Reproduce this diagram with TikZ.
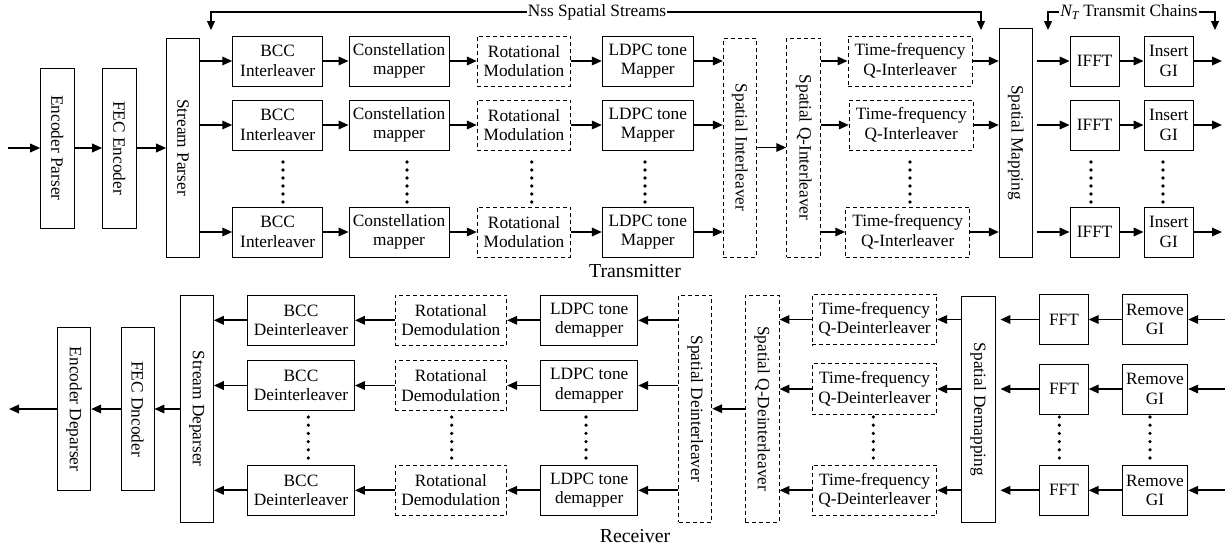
\documentclass[tikz,border=0pt]{standalone}
\usepackage{fontspec}
\setmainfont{Liberation Serif}
\usetikzlibrary{arrows.meta}
\begin{document}
\begin{tikzpicture}[x=1pt,y=-1pt,
  box/.style={draw, line width=0.9pt, inner sep=0pt, align=center, font=\fontsize{17.3}{19.5}\selectfont},
  dbox/.style={box, dash pattern=on 4pt off 3pt},
  arr/.style={line width=1.8pt, -{Triangle[length=10pt,width=8.5pt]}},
  brk/.style={line width=1.2pt, {Triangle[length=9pt,width=8pt]}-{Triangle[length=9pt,width=8pt]}},
  lbl/.style={fill=white, inner sep=1pt, font=\fontsize{17.3}{19.5}\selectfont},
  big/.style={font=\fontsize{19.8}{22}\selectfont, inner sep=0pt}
]
\useasboundingbox (0,0) rectangle (1225,549);

% ---------------- Transmitter ----------------
\node[box, minimum width=33.3pt, minimum height=160pt] (EP) at (57.3,148) {\rotatebox{-90}{Encoder Parser}};
\node[box, minimum width=33.3pt, minimum height=160pt] (FEC) at (119.3,148) {\rotatebox{-90}{FEC Encoder}};
\node[box, minimum width=32.7pt, minimum height=219pt] (SP) at (183,147.5) {\rotatebox{-90}{Stream Parser}};
\node[dbox, minimum width=32.7pt, minimum height=219pt] (SI) at (739.7,147.5) {\rotatebox{-90}{Spatial Interleaver}};
\node[dbox, minimum width=34pt, minimum height=219pt] (SQI) at (803.7,147.5) {\rotatebox{-90}{Spatial Q-Interleaver}};
\node[box, minimum width=33pt, minimum height=229pt] (SM) at (1015.8,142.5) {\rotatebox{-90}{Spatial Mapping}};

\coordinate (IN) at (8,148);
\draw[arr] (IN) -- (EP.west |- IN);
\draw[arr] (EP.east |- IN) -- (FEC.west |- IN);
\draw[arr] (FEC.east |- IN) -- (SP.west |- IN);
\draw[arr] (SI) -- (SQI);

\foreach \i/\yy/\tx in {1/61/910,2/125/911.3,3/232/907.7}{
  \node[box, minimum width=90pt, minimum height=50pt] (B\i) at (277.7,\yy) {BCC\\Interleaver};
  \node[box, minimum width=100pt, minimum height=50pt] (C\i) at (399,\yy) {Constellation\\mapper};
  \node[dbox, minimum width=93.4pt, minimum height=50pt] (R\i) at (524,\yy) {Rotational\\Modulation};
  \node[box, minimum width=91pt, minimum height=50pt] (L\i) at (647.8,\yy) {LDPC tone\\Mapper};
  \node[dbox, minimum width=124pt, minimum height=50pt] (T\i) at (\tx,\yy) {Time-frequency\\Q-Interleaver};
  \node[box, minimum width=49.3pt, minimum height=50pt] (I\i) at (1094.7,\yy) {IFFT};
  \node[box, minimum width=49.3pt, minimum height=50pt] (G\i) at (1168.7,\yy) {Insert\\GI};
  \coordinate (O\i) at (1222,\yy);
  \draw[arr] (SP.east |- B\i.west) -- (B\i.west);
  \draw[arr] (B\i) -- (C\i);
  \draw[arr] (C\i) -- (R\i);
  \draw[arr] (R\i) -- (L\i);
  \draw[arr] (L\i.east) -- (L\i.east -| SI.west);
  \draw[arr] (SQI.east |- T\i.west) -- (T\i.west);
  \draw[arr] (T\i.east) -- (T\i.east -| SM.west);
  \draw[arr] ([xshift=4pt]SM.east |- I\i.west) -- (I\i.west);
  \draw[arr] (I\i) -- (G\i);
  \draw[arr] (G\i) -- (O\i);
}

\foreach \x in {283,407,531.7,645,910,1091,1163}
  \foreach \k in {0,...,5}
    \fill (\x,162+8*\k) circle (1.8pt);

% brackets
\coordinate (NL) at (211,30);
\coordinate (NLt) at (211,12);
\coordinate (NRt) at (981,12);
\coordinate (NR) at (981,30);
\draw[brk] (NL) -- (NLt) -- (NRt) -- (NR);
\node[lbl] (NSS) at (597,12) {Nss Spatial Streams};

\coordinate (TL) at (1048,30);
\coordinate (TLt) at (1048,12);
\coordinate (TRt) at (1215,12);
\coordinate (TR) at (1215,30);
\draw[brk] (TL) -- (TLt) -- (TRt) -- (TR);
\node[lbl] (NT) at (1129,12) {{\itshape N}\textsubscript{\itshape T} Transmit Chains};

\node[big] (TX) at (635,271) {Transmitter};

% ---------------- Receiver ----------------
\node[box, minimum width=33.4pt, minimum height=163.4pt] (ED) at (74,409) {\rotatebox{-90}{Encoder Deparser}};
\node[box, minimum width=33pt, minimum height=163.4pt] (FD) at (137.5,409) {\rotatebox{-90}{FEC Dncoder}};
\node[box, minimum width=33.3pt, minimum height=227.3pt] (SD) at (196.7,408.7) {\rotatebox{-90}{Stream Deparser}};
\node[dbox, minimum width=33pt, minimum height=227.3pt] (SDI) at (695.2,408.7) {\rotatebox{-90}{Spatial Deinterleaver}};
\node[dbox, minimum width=34pt, minimum height=227.3pt] (SQD) at (762,408.7) {\rotatebox{-90}{Spatial Q-Deinterleaver}};
\node[box, minimum width=33.3pt, minimum height=225.6pt] (SDM) at (978.3,409.5) {\rotatebox{-90}{Spatial Demapping}};

\coordinate (OUT) at (9,409);
\draw[arr] (SQD) -- (SDI);
\draw[arr] (SD.west |- FD.east) -- (FD.east);
\draw[arr] (FD) -- (ED);
\draw[arr] (ED.west) -- (OUT);

\foreach \i/\yl/\yr in {1/320.3/319.5,2/385.5/389,3/490.3/490.3}{
  \node[box, minimum width=107pt, minimum height=50.7pt] (BD\i) at (301,\yl) {BCC\\Deinterleaver};
  \node[dbox, minimum width=111.7pt, minimum height=50.7pt] (RD\i) at (450.8,\yl) {Rotational\\Demodulation};
  \node[box, minimum width=97pt, minimum height=50.7pt] (LD\i) at (589.2,\yl) {LDPC tone\\demapper};
  \node[dbox, minimum width=124.4pt, minimum height=50.7pt] (TD\i) at (874.5,\yr) {Time-frequency\\Q-Deinterleaver};
  \node[box, minimum width=48.3pt, minimum height=50pt] (F\i) at (1064,\yr) {FFT};
  \node[box, minimum width=65.4pt, minimum height=50pt] (RG\i) at (1155,\yr) {Remove\\GI};
  \coordinate (IN\i) at (1225,\yr);
  \draw[arr] (IN\i) -- (RG\i.east);
  \draw[arr] (RG\i) -- (F\i);
  \draw[arr] (F\i.west) -- ([xshift=5pt]SDM.east |- F\i.west);
  \draw[arr] (SDM.west |- TD\i.east) -- (TD\i.east);
  \draw[arr] (TD\i.west) -- (TD\i.west -| SQD.east);
  \draw[arr] (SDI.west |- LD\i.east) -- (LD\i.east);
  \draw[arr] (LD\i) -- (RD\i);
  \draw[arr] (RD\i) -- (BD\i);
  \draw[arr] (BD\i.west) -- (BD\i.west -| SD.east);
}

\foreach \x in {308.3,451.7,586,873.3,1059.3,1150}
  \foreach \k in {0,...,5}
    \fill (\x,417+8.2*\k) circle (1.8pt);

\node[big] (RX) at (635,536) {Receiver};
\end{tikzpicture}
\end{document}
